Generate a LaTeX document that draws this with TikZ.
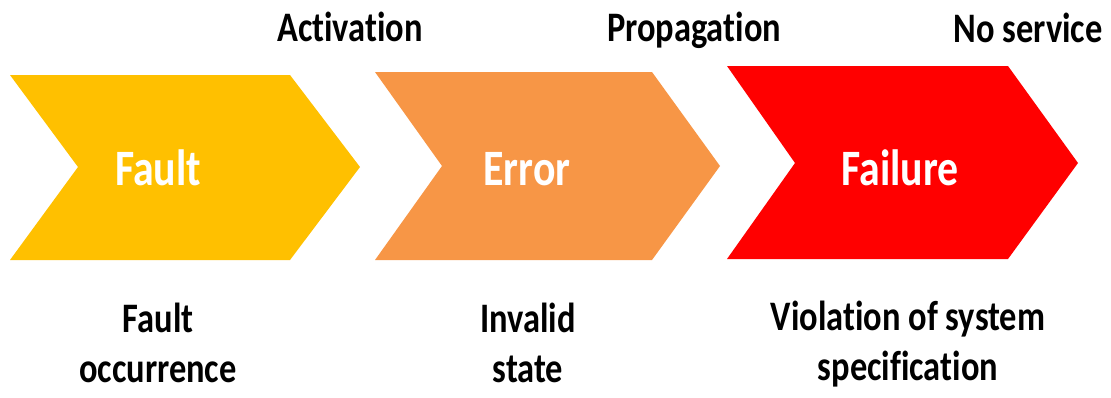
\documentclass[tikz,border=0pt]{standalone}
\usepackage{fontspec}
\setmainfont[Ligatures=NoCommon]{Carlito}
\definecolor{faultc}{HTML}{FFC000}
\definecolor{errorc}{HTML}{F79646}
\definecolor{failc}{HTML}{FF0000}
\begin{document}
\begin{tikzpicture}[x=1bp,y=-1bp,
  chevron/.style={fill=#1,draw=none},
  stage/.style={text=white,inner sep=0pt,anchor=base,xscale=0.82,
    font=\fontsize{51bp}{60bp}\selectfont\bfseries},
  caption/.style={text=black,inner sep=0pt,anchor=base,xscale=0.82,align=center,
    font=\fontsize{42bp}{50bp}\selectfont\bfseries}]
  \useasboundingbox (0,0) rectangle (1111,397);
  % three chevrons of the chain
  \fill[chevron=faultc] (10,75) -- (290,75) -- (360,167) -- (290,260) -- (10,260) -- (78,167) -- cycle;
  \fill[chevron=errorc] (375,72) -- (652,72) -- (720,166) -- (652,260) -- (375,260) -- (442,166) -- cycle;
  \fill[chevron=failc] (727,66) -- (1008,66) -- (1078,163) -- (1008,259) -- (727,259) -- (795,163) -- cycle;
  % stage names
  \node[stage] (fault) at (158,185) {Fault};
  \node[stage] (error) at (527,185) {Error};
  \node[stage] (failure) at (900,185) {Failure};
  % transitions above
  \node[caption] (act) at (350,41) {Activation};
  \node[caption] (prop) at (694,41) {Propagation};
  \node[caption] (nosvc) at (1028,42) {No service};
  % descriptions below (base anchor sits on the second line)
  \node[caption] (occ) at (158,382) {Fault\\occurrence};
  \node[caption] (inv) at (528,382) {Invalid\\state};
  \node[caption] (viol) at (908,380) {Violation of system\\specification};
\end{tikzpicture}
\end{document}
